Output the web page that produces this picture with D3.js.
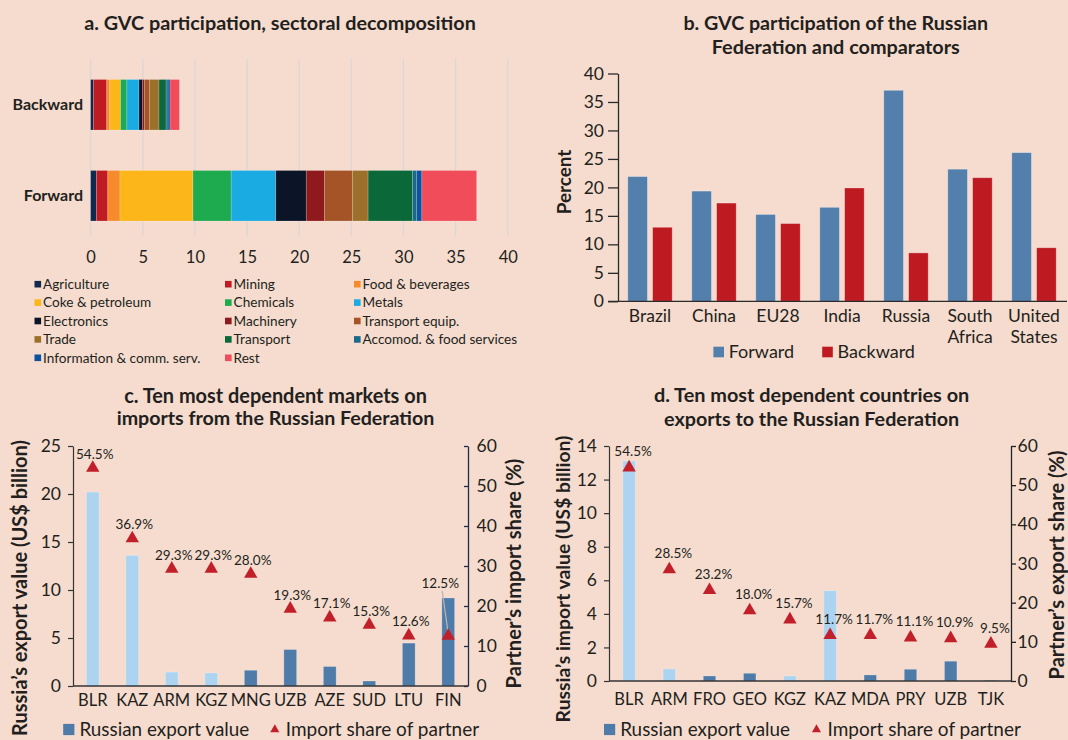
<!DOCTYPE html>
<html><head><meta charset="utf-8">
<script src="https://cdn.jsdelivr.net/npm/d3@7"></script>
<style>
html,body{margin:0;padding:0;background:#f5dcce;}
svg{display:block;}
text{font-family:Lato,'Open Sans',sans-serif;fill:#231f20;}
</style></head><body>
<svg id="chart" width="1068" height="740"></svg>
<script>
// ---------- DATA ----------
// Panel a
const aRows = ["Backward", "Forward"];
const aSectors = ["Agriculture","Mining","Food & beverages","Coke & petroleum","Chemicals","Metals","Electronics","Machinery","Transport equip.","Trade","Transport","Accomod. & food services","Information & comm. serv.","Rest"];
const aBackward = [0.26,1.29,0.29,1.03,0.61,1.16,0.32,0.19,0.48,0.93,0.68,0.19,0.19,0.90];
const aForward  = [0.55,1.10,1.17,7.00,3.66,4.28,2.92,1.75,2.69,1.49,4.25,0.42,0.49,5.25];
const aTicks = [0,5,10,15,20,25,30,35,40];
// Panel b
const bCountries = ["Brazil","China","EU28","India","Russia","South Africa","United States"];
const bSeries = ["Forward","Backward"];
const bForward  = [21.9,19.35,15.25,16.5,37.05,23.2,26.1];
const bBackward = [13.0,17.25,13.65,19.9,8.5,21.7,9.4];
const bTicks = [0,5,10,15,20,25,30,35,40];
// Panel c
const cCats   = ["BLR","KAZ","ARM","KGZ","MNG","UZB","AZE","SUD","LTU","FIN"];
const cValues = [20.2,13.6,1.45,1.36,1.64,3.8,2.03,0.52,4.47,9.17];
const cShares = [54.5,36.9,29.3,29.3,28.0,19.3,17.1,15.3,12.6,12.5];
const cLeftTicks = [0,5,10,15,20,25];
// Panel d
const dCats   = ["BLR","ARM","FRO","GEO","KGZ","KAZ","MDA","PRY","UZB","TJK"];
const dValues = [13.1,0.72,0.30,0.46,0.30,5.38,0.36,0.70,1.18,0.04];
const dShares = [54.5,28.5,23.2,18.0,15.7,11.7,11.7,11.1,10.9,9.5];
const dLeftTicks = [0,2,4,6,8,10,12,14];
const rightTicks = [0,10,20,30,40,50,60];
// Eurasian Economic Union members (light bars)
const eaeu = ["BLR","KAZ","ARM","KGZ"];

// ---------- STYLE ----------
const BG = "#f5dcce";
const aColors = ["#0f2a4d","#be1b22","#f68b2c","#fdb61a","#1eab50","#1aabe2","#0c1428","#8e1a1e","#a45426","#9c702b","#0b6838","#1b6a8b","#0b53a0","#f04c5a"];
const FWD = "#527fab", BWD = "#be1a22";
const LIGHT = "#acd4f1", STEEL = "#4e7ba8", TRI = "#c1202a";
const INK = "#231f20";
const F = "Lato,'Open Sans',sans-serif";

const svg = d3.select("#chart");
svg.append("rect").attr("width",1068).attr("height",740).attr("fill",BG);

// scale a text's font so that it spans a target width
function fit(sel, base, target){
  sel.style("font-size", base+"px");
  const w = sel.node().getComputedTextLength();
  const s = base*target/w;
  sel.style("font-size", s+"px");
  return s;
}

function title(x, ys, lines, widths){
  let size = null;
  lines.forEach((l,i)=>{
    const t = svg.append("text").attr("x",x).attr("y",ys[i]).attr("dy","0.35em").attr("text-anchor","middle")
      .style("font-weight","700").text(l);
    fit(t, 18, widths[i]);
  });
}

function vlabel(g, x, y, txt, target){
  const t = g.append("text").attr("transform",`translate(${x},${y}) rotate(-90)`).attr("text-anchor","middle").attr("dy","0.35em")
    .style("font-weight","700").text(txt);
  fit(t, 17, target);
}

// ---------- PANEL A ----------
title(280, [23.3], ["a. GVC participation, sectoral decomposition"], [392]);
const xA = d3.scaleLinear().domain([0,40]).range([90.6,507.7]);
const yA = d3.scaleBand().domain(aRows).range([79.5,221]).paddingInner(0.445);
const gA = svg.append("g");
gA.selectAll("line.grid").data(aTicks).join("line")
  .attr("x1",d=>xA(d)).attr("x2",d=>xA(d)).attr("y1",59).attr("y2",236)
  .attr("stroke","#dcd7d6").attr("stroke-width",1.3);
const aData = aRows.map((r,i)=>{const o={row:r}; aSectors.forEach((s,j)=>o[s]=(i===0?aBackward:aForward)[j]); return o;});
const stackA = d3.stack().keys(aSectors)(aData);
gA.selectAll("g.layer").data(stackA).join("g").attr("fill",(d,i)=>aColors[i])
  .selectAll("rect").data(d=>d).join("rect")
  .attr("x",d=>xA(d[0])).attr("width",d=>xA(d[1])-xA(d[0]))
  .attr("y",d=>yA(d.data.row)).attr("height",yA.bandwidth())
  .attr("stroke","rgba(255,255,255,0.3)").attr("stroke-width",0.6);
const axA = gA.append("g").attr("transform","translate(0,251)")
  .call(d3.axisBottom(xA).tickValues(aTicks).tickSize(0).tickPadding(0).tickFormat(d3.format("d")));
axA.select(".domain").remove();
axA.selectAll("text").style("font-size","16.5px").style("font-family",F).attr("fill",INK);
const ayA = gA.append("g").attr("transform","translate(83,0)")
  .call(d3.axisLeft(yA).tickSize(0).tickPadding(0));
ayA.select(".domain").remove();
ayA.selectAll("text").style("font-size","16px").style("font-weight","700").style("font-family",F).attr("fill",INK);
// legend a
const legColX = [34.5, 225, 354];
const legRowY = [284.2, 302.6, 321, 339.4, 357.8];
const legA = gA.selectAll("g.leg").data(aSectors).join("g")
  .attr("transform",(d,i)=>`translate(${legColX[i%3]},${legRowY[Math.floor(i/3)]})`);
legA.append("rect").attr("x",0).attr("y",-3.3).attr("width",6.6).attr("height",6.6).attr("fill",(d,i)=>aColors[i]);
legA.append("text").attr("x",8.6).attr("y",0).attr("dy","0.35em").style("font-size","13.6px").text(d=>d);

// ---------- PANEL B ----------
title(835.8, [23.3, 46.7], ["b. GVC participation of the Russian","Federation and comparators"], [305, 248.3]);
const gB = svg.append("g");
const xB = d3.scaleBand().domain(bCountries).range([618,1066]).paddingInner(0.306).paddingOuter(0.153);
const xB2 = d3.scaleBand().domain(bSeries).range([0,xB.bandwidth()]).paddingInner(0.21);
const yB = d3.scaleLinear().domain([0,40]).range([301.3,73.5]);
const bData = bCountries.map((c,i)=>({c, Forward:bForward[i], Backward:bBackward[i]}));
gB.selectAll("g.grp").data(bData).join("g").attr("transform",d=>`translate(${xB(d.c)},0)`)
  .selectAll("rect").data(d=>bSeries.map(s=>({s, v:d[s]}))).join("rect")
  .attr("x",d=>xB2(d.s)).attr("width",xB2.bandwidth())
  .attr("y",d=>yB(d.v)).attr("height",d=>yB(0)-yB(d.v))
  .attr("fill",d=>d.s==="Forward"?FWD:BWD)
  .attr("stroke","rgba(255,255,255,0.35)").attr("stroke-width",0.8);
const ayB = gB.append("g").attr("transform","translate(618,0)")
  .call(d3.axisLeft(yB).tickValues(bTicks).tickSize(10).tickSizeOuter(0).tickPadding(4));
ayB.selectAll("path,line").attr("stroke","#2a2a2a").attr("stroke-width",1.3);
ayB.selectAll("text").style("font-size","17.5px").style("font-family",F).attr("fill",INK);
gB.append("line").attr("x1",608).attr("x2",1067).attr("y1",yB(0)).attr("y2",yB(0)).attr("stroke","#2a2a2a").attr("stroke-width",1.3);
gB.selectAll("text.cat").data(bCountries).join("text").attr("class","cat")
  .attr("text-anchor","middle").style("font-size","17.5px")
  .each(function(d){
    const parts = d.split(" ");
    const t = d3.select(this);
    parts.forEach((p,i)=>t.append("tspan").attr("x",xB(d)+xB.bandwidth()/2).attr("y",315.5+i*21.5).attr("dy","0.35em").text(p));
  });
vlabel(gB, 564.5, 182, "Percent", 64.7);
const legB = gB.selectAll("g.legb").data(bSeries).join("g")
  .attr("transform",(d,i)=>`translate(${i===0?713.4:822.2},352)`);
legB.append("rect").attr("x",0).attr("y",-5.3).attr("width",10.6).attr("height",10.6).attr("fill",d=>d==="Forward"?FWD:BWD);
legB.append("text").attr("x",15.3).attr("dy","0.35em").style("font-size","18px").text(d=>d);

// ---------- PANELS C & D ----------
function dualPanel(o){
  const g = svg.append("g");
  const x = d3.scaleBand().domain(o.cats).range([o.x0,o.x1]).paddingInner(o.pad).paddingOuter(o.pad/2);
  const yL = d3.scaleLinear().domain([0,o.maxL]).range([o.yb,o.yt]);
  const yR = d3.scaleLinear().domain([0,60]).range([o.yb,o.yt]);
  const cx = d=>x(d)+x.bandwidth()/2;
  g.selectAll("rect.bar").data(o.cats).join("rect")
    .attr("x",d=>x(d)).attr("width",x.bandwidth())
    .attr("y",(d,i)=>yL(o.values[i])).attr("height",(d,i)=>yL(0)-yL(o.values[i]))
    .attr("fill",d=>eaeu.includes(d)?LIGHT:STEEL)
    .attr("stroke","rgba(255,255,255,0.3)").attr("stroke-width",0.8);
  // left axis
  const aL = g.append("g").attr("transform",`translate(${o.x0},0)`)
    .call(d3.axisLeft(yL).tickValues(o.leftTicks).tickSize(5).tickSizeOuter(0).tickPadding(7));
  aL.selectAll("path,line").attr("stroke","#333").attr("stroke-width",1.2);
  aL.selectAll("text").style("font-size","17.5px").style("font-family",F).attr("fill",INK);
  // right axis
  const aR = g.append("g").attr("transform",`translate(${o.x1},0)`)
    .call(d3.axisRight(yR).tickValues(rightTicks).tickSizeInner(o.rTick).tickSizeOuter(0).tickPadding(o.rPad));
  aR.selectAll("path,line").attr("stroke",o.rColor).attr("stroke-width",1.3);
  aR.selectAll("text").style("font-size","17.5px").style("font-family",F).attr("fill",INK);
  // baseline
  g.append("line").attr("x1",o.x0).attr("x2",o.x1).attr("y1",yL(0)).attr("y2",yL(0)).attr("stroke","#333").attr("stroke-width",1.3);
  // categories
  g.selectAll("text.cat").data(o.cats).join("text").attr("x",cx).attr("y",o.catY).attr("dy","0.35em")
    .attr("text-anchor","middle").style("font-size","16.5px").text(d=>d);
  // leader line for special label
  if(o.special){
    const s = o.special, c = o.cats[s.i], ty = yR(o.shares[s.i]);
    g.append("line").attr("x1",cx(c)+s.dx+2).attr("y1",ty+s.dy+8).attr("x2",cx(c)).attr("y2",ty-2)
      .attr("stroke","#b9b3b0").attr("stroke-width",1.3);
  }
  // triangles
  g.selectAll("path.tri").data(o.cats).join("path")
    .attr("d",d3.symbol().type(d3.symbolTriangle).size(78))
    .attr("transform",(d,i)=>`translate(${cx(d)},${yR(o.shares[i])})`).attr("fill",TRI);
  // labels
  g.selectAll("text.lbl").data(o.cats).join("text")
    .attr("x",(d,i)=>cx(d)+(o.special&&o.special.i===i?o.special.dx:o.lblDx))
    .attr("y",(d,i)=>yR(o.shares[i])+(o.special&&o.special.i===i?o.special.dy:-o.lblDy))
    .attr("dy","0.35em").attr("text-anchor","middle").style("font-size","13.5px").attr("fill","#333")
    .text((d,i)=>d3.format(".1f")(o.shares[i])+"%");
  // axis titles
  vlabel(g, o.lTitleX, o.lTitleY, o.lTitle, o.lTitleW);
  vlabel(g, o.rTitleX, o.rTitleY, o.rTitle, o.rTitleW);
  // legend
  const lg = g.append("g").attr("transform",`translate(${o.legX},${o.legY})`);
  lg.append("rect").attr("x",0).attr("y",-5.6).attr("width",11.2).attr("height",11.2).attr("fill",STEEL);
  const t1 = lg.append("text").attr("x",16.2).attr("dy","0.35em").text("Russian export value");
  fit(t1, 18, 170);
  lg.append("path").attr("d",d3.symbol().type(d3.symbolTriangle).size(36)).attr("transform",`translate(${o.legTriDx},0)`).attr("fill",TRI);
  const t2 = lg.append("text").attr("x",o.legTriDx+11).attr("dy","0.35em").text("Import share of partner");
  fit(t2, 18, 193.5);
}

title(275.5, [395.8, 418.2], ["c. Ten most dependent markets on","imports from the Russian Federation"], [303, 318]);
dualPanel({cats:cCats, values:cValues, shares:cShares, maxL:25, leftTicks:cLeftTicks,
  x0:73, x1:468, yb:686, yt:446, pad:0.676, rTick:-4, rPad:8.5, rColor:"#1e2c4e",
  catY:700, lblDx:2, lblDy:14, special:{i:9, dx:-8, dy:-53},
  lTitle:"Russia\u2019s export value (US$ billion)", lTitleX:19.6, lTitleY:588, lTitleW:296,
  rTitle:"Partner\u2019s import share (%)", rTitleX:513.7, rTitleY:573.5, rTitleW:230,
  legX:63.2, legY:729.5, legTriDx:211.6});

title(811.6, [395.3, 418.8], ["d. Ten most dependent countries on","exports to the Russian Federation"], [315.5, 295.3]);
dualPanel({cats:dCats, values:dValues, shares:dShares, maxL:14, leftTicks:dLeftTicks,
  x0:609, x1:1011, yb:681, yt:446, pad:0.69, rTick:5, rPad:1.5, rColor:"#222",
  catY:699, lblDx:4, lblDy:16, special:null,
  lTitle:"Russia\u2019s import value (US$ billion)", lTitleX:563.6, lTitleY:579, lTitleW:287,
  rTitle:"Partner\u2019s export share (%)", rTitleX:1056.5, rTitleY:565, rTitleW:229,
  legX:604, legY:729.5, legTriDx:212.5});
</script></body></html>
